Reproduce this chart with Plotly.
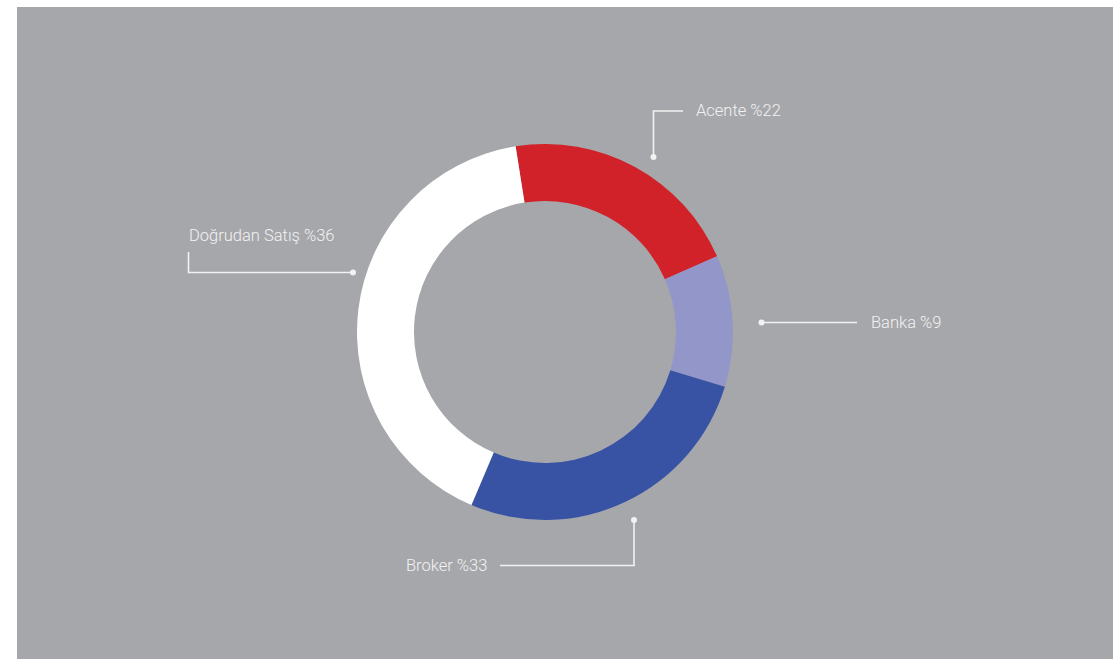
import plotly.graph_objects as go

W, H = 1113, 659

# Data (slice shares measured from drawn angles; label texts as printed)
categories = ["Acente", "Banka", "Broker", "Doğrudan Satış"]
shares = [20.9, 11.3, 26.7, 41.1]
label_texts = ["Acente %22", "Banka %9", "Broker %33", "Doğrudan Satış %36"]
colors = ["#d12229", "#9296c8", "#3953a4", "#ffffff"]

BG = "#a6a7ab"
FG = "#f2f2f2"
FONT = "Roboto"


def px(x):
    return x / W


def py(y):
    return 1 - y / H


cx, cy, R = 545, 332, 188

fig = go.Figure()
fig.add_trace(go.Pie(
    labels=categories,
    values=shares,
    sort=False,
    direction="clockwise",
    rotation=-9,
    hole=0.697,
    marker=dict(colors=colors, line=dict(width=0)),
    textinfo="none",
    hoverinfo="label+percent",
    showlegend=False,
    domain=dict(x=[px(cx - R), px(cx + R)], y=[py(cy + R), py(cy - R)]),
))

shapes = [
    # white page margins
    dict(type="rect", xref="paper", yref="paper", x0=0, x1=px(17), y0=0, y1=1,
         fillcolor="white", line=dict(width=0)),
    dict(type="rect", xref="paper", yref="paper", x0=0, x1=1, y0=py(7), y1=1,
         fillcolor="white", line=dict(width=0)),
]

# leader lines: list of polyline points (pixels) and dot at first point
leaders = [
    [(653.5, 157), (653.5, 111), (683, 111)],
    [(761.5, 322.5), (857, 322.5)],
    [(634, 520), (634, 565.5), (500, 565.5)],
    [(353, 272.5), (188.5, 272.5), (188.5, 252)],
]
for pts in leaders:
    path = "M " + " L ".join(f"{px(x)},{py(y)}" for x, y in pts)
    shapes.append(dict(type="path", xref="paper", yref="paper", path=path,
                       line=dict(color=FG, width=1.6)))
    dx, dy = pts[0]
    r = 3
    shapes.append(dict(type="circle", xref="paper", yref="paper",
                       x0=px(dx - r), x1=px(dx + r), y0=py(dy + r), y1=py(dy - r),
                       fillcolor=FG, line=dict(width=0)))

# label positions (pixels): x, y, anchor
label_pos = [
    (694, 110.5, "left"),
    (869, 322.5, "left"),
    (489, 565.5, "right"),
    (187, 235.5, "left"),
]
annotations = []
for (x, y, anc), t in zip(label_pos, label_texts):
    annotations.append(dict(
        x=px(x), y=py(y), xref="paper", yref="paper", text=t, showarrow=False,
        xanchor=anc, yanchor="middle",
        font=dict(family=FONT, size=16.5, color=FG, weight=300),
    ))

fig.update_layout(
    width=W, height=H,
    margin=dict(l=0, r=0, t=0, b=0),
    paper_bgcolor=BG,
    plot_bgcolor=BG,
    shapes=shapes,
    annotations=annotations,
)

fig.write_html("out.html", config={"displayModeBar": False},
               post_script="document.body.style.margin='0';")
